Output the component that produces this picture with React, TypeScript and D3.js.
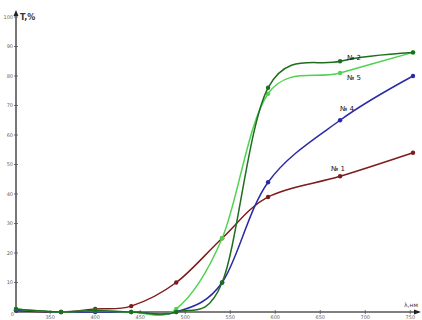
import React from 'react';
import * as d3 from 'd3';

// wavelength, nm
const wavelengths = [312, 362, 400, 440, 490, 541, 592, 672, 753];
// transmission, %
const sample1 = [0.5, 0, 1, 2, 10, 25, 39, 46, 54];
const sample2 = [1, 0, 0.5, 0, 0, 10, 76, 85, 88];
const sample4 = [0.5, 0, 0, 0, 0, 10, 44, 65, 80];
const sample5 = [1, 0, 0.5, 0, 1, 25, 74, 81, 88];

const xTicks = [350, 400, 450, 500, 550, 600, 650, 700, 750];
const yTicks = [10, 20, 30, 40, 50, 60, 70, 80, 90, 100];

const series = [
  { name: '№ 1', values: sample1, color: '#7d1c1c', label: [331, 171] },
  { name: '№ 4', values: sample4, color: '#2a2aa6', label: [340, 111] },
  { name: '№ 5', values: sample5, color: '#4fd34f', label: [347, 80] },
  { name: '№ 2', values: sample2, color: '#1f6e1f', label: [347, 60] },
];

const width = 422;
const height = 320;

export default function App() {
  const x = d3.scaleLinear().domain([312, 753]).range([16, 413]);
  const y = d3.scaleLinear().domain([0, 100]).range([312, 17]);

  const line = d3.line<number>()
    .x((d, i) => x(wavelengths[i]))
    .y(d => y(d))
    .curve(d3.curveCatmullRom.alpha(0));

  const x0 = x(312);
  const y0 = y(0);
  const axisColor = '#555';

  return (
    <svg width={width} height={height}
      style={{ position: 'absolute', left: 0, top: 0, background: '#fff' }}
      fontFamily="'DejaVu Sans', sans-serif">
      {/* axes */}
      <line x1={x0} y1={y0} x2={419} y2={y0} stroke={axisColor} strokeWidth={1.6} />
      <path d={`M421,${y0} L414,${y0 - 2.5} L414,${y0 + 2.5} Z`} fill="#222" />
      <line x1={x0} y1={y0} x2={x0} y2={12} stroke={axisColor} strokeWidth={1.6} />
      <path d={`M${x0},10 L${x0 - 2.5},16 L${x0 + 2.5},16 Z`} fill="#222" />

      {yTicks.map(t => (
        <g key={t}>
          <line x1={x0 - 2} x2={x0 + 2} y1={y(t)} y2={y(t)} stroke={axisColor} strokeWidth={0.8} />
          <text x={x0 - 3} y={y(t) + 1.8} fontSize={5} textAnchor="end" fill="#666">{t}</text>
        </g>
      ))}
      {xTicks.map(t => (
        <g key={t}>
          <line x1={x(t)} x2={x(t)} y1={y0 - 2} y2={y0 + 2} stroke={axisColor} strokeWidth={0.8} />
          <text x={x(t)} y={y0 + 7} fontSize={5} textAnchor="middle" fill="#666">{t}</text>
        </g>
      ))}
      <text x={x0 - 2} y={y0 + 4} fontSize={5} textAnchor="end" fill="#666">0</text>

      <text x={20} y={20} fontSize={8} fontWeight="bold" fill="#333">T,%</text>
      <text x={404} y={307} fontSize={6} fill="#333">λ,нм</text>

      {/* curves */}
      {series.map(s => (
        <g key={s.name}>
          <path d={line(s.values) || ''} fill="none" stroke={s.color} strokeWidth={1.5} />
          {s.values.map((v, i) => (
            <circle key={i} cx={x(wavelengths[i])} cy={y(v)} r={2.2} fill={s.color} />
          ))}
          <text x={s.label[0]} y={s.label[1]} fontSize={7} fill="#111">{s.name}</text>
        </g>
      ))}
    </svg>
  );
}
